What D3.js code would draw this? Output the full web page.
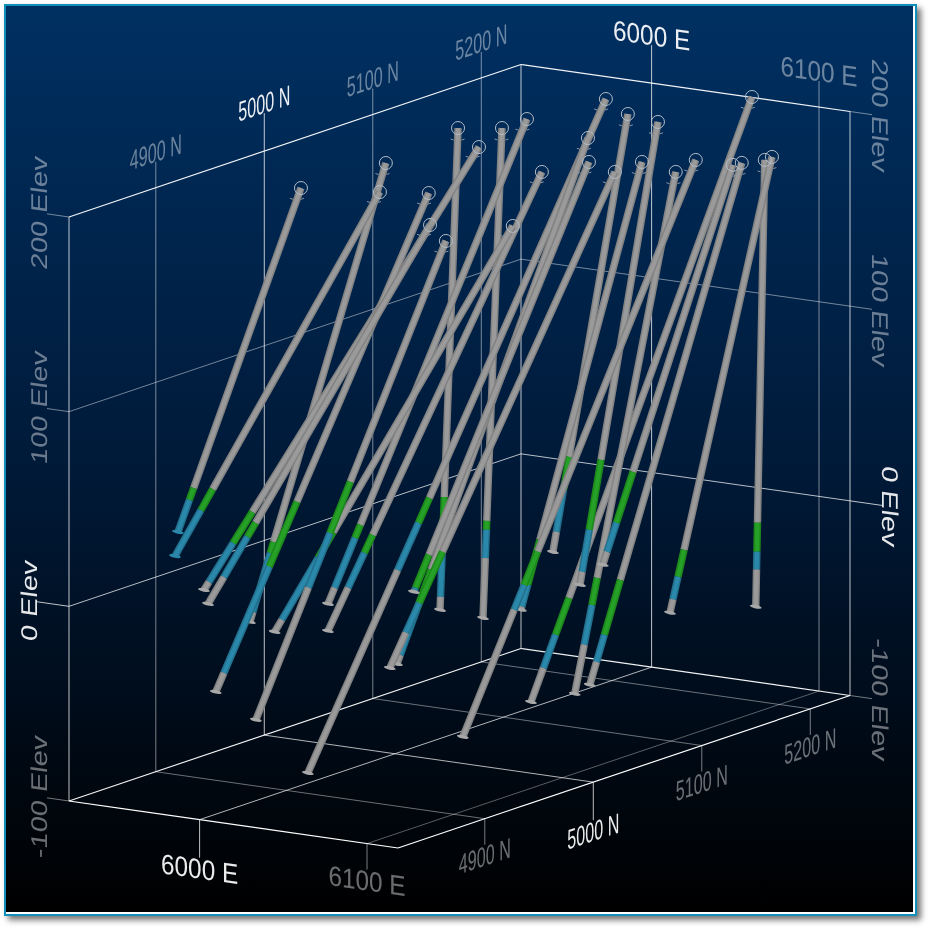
<!DOCTYPE html>
<html>
<head>
<meta charset="utf-8">
<script src="https://cdn.jsdelivr.net/npm/d3@7"></script>
<style>
html, body { margin: 0; padding: 0; background: #fff; }
#frame { position: absolute; left: 4px; top: 4px; width: 909px; height: 908px; border: 2px solid #118fba; box-shadow: 4px 4px 6px rgba(0,0,0,.55); }
#chart { position: absolute; left: 0; top: 0; }
text { font-family: "Liberation Sans", Arial, sans-serif; font-size: 24px; fill: #fff; }
</style>
</head>
<body>
<div id="frame"></div>
<div id="chart"></div>
<script>
var width = 928;
var height = 928;

var eastTicks = [6000, 6100];
var northTicks = [4900, 5000, 5100, 5200];
var elevTicks = [-100, 0, 100, 200];
var majorEast = 6000;
var majorNorth = 5000;
var majorElev = 0;

var eastRange = [5922, 6118.5];
var northRange = [4820, 5236.6];
var elevRange = [-100, 200];

// drill holes: all collared at 200 Elev, drilled on an east section
var collarElev = 200;
var holeEast = [5983.3, 6021.4, 6007, 6083.4, 6043.1, 5987.8, 6109.9, 6119.3, 5992.3, 6064.4, 6000.5, 6095, 6041.5, 6071.7, 5974.6, 5993, 6114, 6028.4, 6093.9, 6050.9, 6059.3, 6120.5, 6137, 6142.2, 6142.9, 6135.7];
var collarNorth = [4939.2, 4953.2, 5066.7, 4903.7, 4964.7, 5010.5, 4877.4, 4924.5, 5133.6, 5036.1, 5193.7, 5056.1, 5113.9, 5068.2, 5097.4, 5109.5, 5101.4, 5170.9, 5082.8, 5163.9, 5237.6, 5072.9, 5108.3, 5128.1, 5120.4, 5102];
var toeNorth = [4825.8, 4764.3, 4813.2, 4699.1, 4768.4, 4885.2, 4702.3, 4705.1, 4950.2, 4838.9, 4919, 4848.7, 4937.9, 4906.9, 5080.8, 5092, 4886.7, 5101.8, 4971.3, 5092, 5033.9, 4979.8, 4968.2, 5034.1, 5112.1, 4982.2];
var toeElev = [44.6, 48.5, 20.1, 43.8, -19.4, -12.2, -13.1, 32.7, -14.6, 1.3, -94.6, -15.8, -37.1, 9.5, -44.4, -48.4, -56, -12, -9.1, -24.3, -72.5, -50.6, -41.8, -16.5, -28, 17.1];
// assay intervals, percent of hole length from the collar
var greenFrom = [87.2, 81.6, 82.4, 78.6, 61.9, 82.6, 50.3, 75.4, 83.7, 79.1, 59.2, 76.6, 82.1, 91.4, 76.6, 80.2, 67.9, 78.3, 84.4, 73, 82.8, 77.8, 79.9, 86.2, 81.2, 76.8];
var greenTo = [90.7, 87.4, 89.4, 82.3, 74.9, 85, 61, 81.8, 86.4, 83, 62.9, 86.9, 89.7, 99.1, 88.2, 82, 73.7, 85.8, 94.4, 88.1, 88.9, 83, 90.4, 92.1, 87.7, 89.5];
var blueTo = [100, 100, 98.2, 92.9, 96.2, 97.8, 72.4, 97, 96.7, 90.6, 69.9, 92.9, 98.3, 99.6, 97.3, 87.8, 78, 95.4, 99.3, 97.2, 94.4, 90.6, 95.6, 97.1, 91.7, 96.8];

// parallel projection, one scale for each screen component of each axis
var originX = 69;
var originY = 801;
var xFromEast = d3.scaleLinear().domain(eastRange).range([0, 329]);
var yFromEast = d3.scaleLinear().domain(eastRange).range([0, 47]);
var xFromNorth = d3.scaleLinear().domain(northRange).range([0, 452]);
var yFromNorth = d3.scaleLinear().domain(northRange).range([0, -152.5]);
var yFromElev = d3.scaleLinear().domain(elevRange).range([0, -584]);

function project(e, n, z) {
  return [originX + xFromEast(e) + xFromNorth(n),
          originY + yFromEast(e) + yFromNorth(n) + yFromElev(z)];
}

var svg = d3.select("#chart").append("svg")
  .attr("width", width)
  .attr("height", height);

var defs = svg.append("defs");
var grad = defs.append("linearGradient")
  .attr("id", "sky").attr("x1", 0).attr("y1", 0).attr("x2", 0).attr("y2", 1);
grad.append("stop").attr("offset", "0%").attr("stop-color", "#003062");
grad.append("stop").attr("offset", "50%").attr("stop-color", "#001a39");
grad.append("stop").attr("offset", "100%").attr("stop-color", "#000000");

defs.append("filter").attr("id", "soft")
  .append("feGaussianBlur").attr("stdDeviation", 0.45);

defs.append("clipPath").attr("id", "panel").append("rect")
  .attr("x", 6).attr("y", 6).attr("width", 907).attr("height", 906);

svg.append("rect")
  .attr("x", 6).attr("y", 6).attr("width", 907).attr("height", 906)
  .attr("fill", "url(#sky)");

var plot = svg.append("g").attr("clip-path", "url(#panel)").append("g").attr("filter", "url(#soft)");
var gridLayer = plot.append("g");
var labelLayer = plot.append("g");
var holeLayer = plot.append("g");
var collarLayer = plot.append("g");

function segment(a, b, op, w) {
  gridLayer.append("line")
    .attr("x1", a[0]).attr("y1", a[1])
    .attr("x2", b[0]).attr("y2", b[1])
    .attr("stroke", "#fff")
    .attr("stroke-opacity", op)
    .attr("stroke-width", w || 1);
}

var eMin = eastRange[0], eMax = eastRange[1];
var nMin = northRange[0], nMax = northRange[1];
var zMin = elevRange[0], zMax = elevRange[1];

// walls and floor outline
segment(project(eMin, nMin, zMin), project(eMin, nMin, zMax), 0.75);
segment(project(eMin, nMax, zMin), project(eMin, nMax, zMax), 0.75);
segment(project(eMax, nMax, zMin), project(eMax, nMax, zMax), 0.75);
segment(project(eMin, nMin, zMin), project(eMin, nMax, zMin), 0.95, 1.2);
segment(project(eMin, nMax, zMin), project(eMax, nMax, zMin), 0.95, 1.2);
segment(project(eMax, nMax, zMin), project(eMax, nMin, zMin), 1, 1.2);
segment(project(eMax, nMin, zMin), project(eMin, nMin, zMin), 1, 1.2);

// text sits in the plane of its axis, u = baseline direction, v = glyph-down direction
function planeLabel(str, pos, u, v, emU, emV, op) {
  var ul = Math.hypot(u[0], u[1]);
  var vl = Math.hypot(v[0], v[1]);
  var a = u[0] / ul * emU / 24, b = u[1] / ul * emU / 24;
  var c = v[0] / vl * emV / 24, d = v[1] / vl * emV / 24;
  labelLayer.append("text")
    .attr("transform", `matrix(${a},${b},${c},${d},${pos[0]},${pos[1]})`)
    .attr("text-anchor", "middle")
    .attr("fill-opacity", op)
    .text(str);
}

var eastDir = [1.675, 0.24];
var northDir = [1.085, -0.366];

elevTicks.forEach(function(z) {
  var major = z === majorElev;
  var stem = major ? 32 : 22;
  var op = major ? 0.9 : 0.42;
  var a = project(eMin, nMin, z), b = project(eMin, nMax, z), c = project(eMax, nMax, z);
  if (z !== zMin && z !== zMax) {
    segment(a, b, major ? 0.72 : 0.45);
    segment(b, c, major ? 0.72 : 0.45);
  }
  if (z === zMax) {
    segment(a, b, 0.95, 1.2);
    segment(b, c, 0.95, 1.2);
  }
  var leftEnd = [a[0] - stem, a[1] - stem * 0.143];
  var rightEnd = [c[0] + stem, c[1] + stem * 0.143];
  segment(a, leftEnd, major ? 0.75 : 0.45);
  segment(c, rightEnd, major ? 0.75 : 0.45);
  planeLabel(z + " Elev", leftEnd, [0, -1], eastDir, 29, 23, op);
  planeLabel(z + " Elev", rightEnd, [0, 1], [-1.675, -0.24], 29, 23, op);
});

eastTicks.forEach(function(e) {
  var major = e === majorEast;
  var stem = major ? 38 : 26;
  var op = major ? 0.92 : 0.42;
  var back = project(e, nMax, zMax), floorBack = project(e, nMax, zMin), front = project(e, nMin, zMin);
  segment(floorBack, [back[0], back[1] - stem], major ? 0.75 : 0.48);
  segment(floorBack, front, major ? 0.7 : 0.35);
  segment(front, [front[0], front[1] + stem], major ? 0.75 : 0.48);
  planeLabel(e + " E", [back[0], back[1] - stem], eastDir, [0, 1], 24.6, 28, op);
  planeLabel(e + " E", [front[0], front[1] + stem + 21], eastDir, [0, 1], 24.6, 28, op);
});

northTicks.forEach(function(n) {
  var major = n === majorNorth;
  var stem = major ? 38 : 26;
  var op = major ? 0.92 : 0.42;
  var back = project(eMin, n, zMax), floorBack = project(eMin, n, zMin), front = project(eMax, n, zMin);
  segment(floorBack, [back[0], back[1] - stem], major ? 0.75 : 0.48);
  segment(floorBack, front, major ? 0.7 : 0.42);
  segment(front, [front[0], front[1] + stem], major ? 0.75 : 0.48);
  planeLabel(n + " N", [back[0], back[1] - stem], northDir, [0, 1], 17, 28, op);
  planeLabel(n + " N", [front[0], front[1] + stem + 21], northDir, [0, 1], 17, 28, op);
});

// holes
var holes = holeEast.map(function(e, i) {
  return {
    east: e,
    collar: [e, collarNorth[i], collarElev],
    toe: [e, toeNorth[i], toeElev[i]],
    green: [greenFrom[i], greenTo[i]],
    blueEnd: blueTo[i]
  };
});

// back to front, same view direction as the projection
function depth(h) {
  return 0.975 * (0.5436 * h.east - 0.8392 * (h.collar[1] + h.toe[1]) / 2) + 0.22 * (h.collar[2] + h.toe[2]) / 2;
}
holes.sort(function(a, b) { return d3.ascending(depth(a), depth(b)); });

var palette = {
  grey: ["#828282", "#9a9a9a"],
  green: ["#1c881c", "#25a025"],
  blue: ["#226f8c", "#2c88aa"]
};

function along(h, pct) {
  var c = project.apply(null, h.collar), t = project.apply(null, h.toe);
  return [c[0] + (t[0] - c[0]) * pct / 100, c[1] + (t[1] - c[1]) * pct / 100];
}

var hole = holeLayer.selectAll(".hole").data(holes).enter().append("g").attr("class", "hole");

hole.each(function(h) {
  var g = d3.select(this);
  var t = project.apply(null, h.toe);
  var parts = [
    [0, h.green[0], "grey"],
    [h.green[0], h.green[1], "green"],
    [h.green[1], h.blueEnd, "blue"],
    [h.blueEnd, 100, "grey"]
  ];

  parts.forEach(function(p) {
    if (p[1] <= p[0]) return;
    var a = along(h, p[0]), b = along(h, p[1]);
    [[7.4, 0], [4.4, 1]].forEach(function(s) {
      g.append("line")
        .attr("x1", a[0]).attr("y1", a[1])
        .attr("x2", b[0]).attr("y2", b[1])
        .attr("stroke", palette[p[2]][s[1]])
        .attr("stroke-width", s[0]);
    });
  });

  // toe cap
  g.append("ellipse")
    .attr("cx", t[0]).attr("cy", t[1])
    .attr("rx", 6).attr("ry", 1.7)
    .attr("transform", `rotate(12,${t[0]},${t[1]})`)
    .attr("fill", h.blueEnd >= 100 ? "#2c88aa" : "#a8a8a8");
});

// collar rings stay visible over the tubes
var collar = collarLayer.selectAll(".collar").data(holes).enter().append("g").attr("class", "collar");

collar.each(function(h) {
  var g = d3.select(this);
  var c = project.apply(null, h.collar), t = project.apply(null, h.toe);
  g.append("circle")
    .attr("cx", c[0]).attr("cy", c[1])
    .attr("r", 6.5)
    .attr("fill", "none")
    .attr("stroke", "#b4bdc8")
    .attr("stroke-width", 1);

  // small marks just below the collar
  var len = Math.hypot(t[0] - c[0], t[1] - c[1]);
  var m = along(h, 100 * 12 / len);
  g.append("path")
    .attr("d", `M${m[0] - 7},${m[1] - 1}l3,1M${m[0] + 4},${m[1]}l3,-1`)
    .attr("fill", "none")
    .attr("stroke", "#8d96a2")
    .attr("stroke-width", 1);
});
</script>
</body>
</html>
